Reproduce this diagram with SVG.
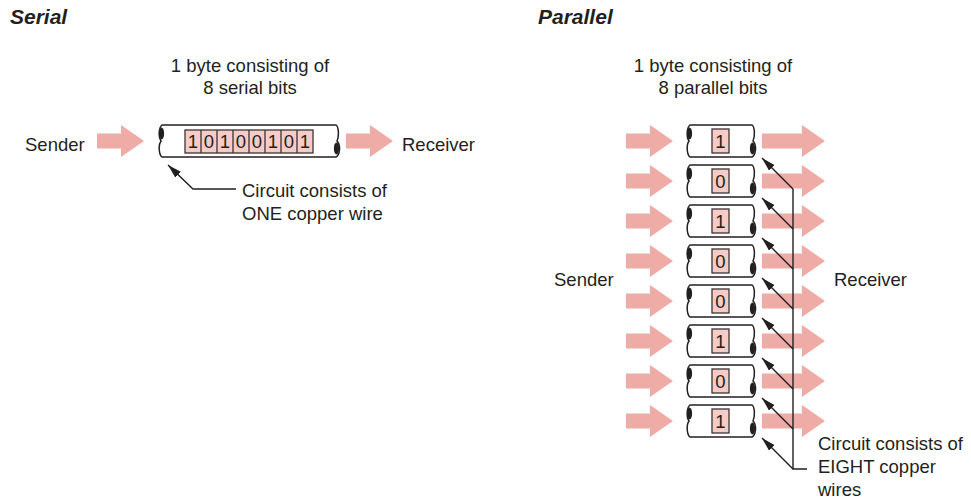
<svg xmlns="http://www.w3.org/2000/svg" xmlns:xlink="http://www.w3.org/1999/xlink" width="971" height="499" viewBox="0 0 971 499">
  <style>
    text { font-family: "Liberation Sans", Arial, sans-serif; font-size: 18.5px; fill: #231f20; }
    .title { font-size: 21px; font-weight: bold; font-style: italic; }
    .mid { text-anchor: middle; }
    .flow { fill: #efaca7; }
    .cell { fill: #f8cbc7; stroke: #3a3536; stroke-width: 1.3; }
    .wire { fill: #ffffff; stroke: #231f20; stroke-width: 1.5; }
    .cut { fill: #231f20; }
    .lead { fill: none; stroke: #231f20; stroke-width: 1.4; }
  </style>
  <defs>
    <marker id="tip" viewBox="0 0 14 8" refX="14" refY="4" markerWidth="14" markerHeight="8" markerUnits="userSpaceOnUse" orient="auto">
      <path d="M0,0 L14,4 L0,8 Z" fill="#231f20"/>
    </marker>
    <!-- short block arrow, 47 long, centred on y=0 -->
    <path id="arrow-short" class="flow" d="M0,-7.5 H24 V-16 L47,0 L24,16 V7.5 H0 Z"/>
    <!-- long block arrow, 63 long -->
    <path id="arrow-long" class="flow" d="M0,-7.5 H40 V-16 L63,0 L40,16 V7.5 H0 Z"/>
    <!-- copper wire segment, 72 wide, 32 tall, with cut ends -->
    <g id="wire-short">
      <path class="wire" d="M5,0 H67 C70,2 70,12 68,16 C72,20 71,30 67,32 H5 C2,30 1,20 4,16 C1,12 2,2 5,0 Z"/>
      <ellipse class="cut" cx="4.5" cy="8.5" rx="2.6" ry="6"/>
      <ellipse class="cut" cx="67.5" cy="23.5" rx="2.6" ry="6"/>
    </g>
  </defs>

  <!-- Serial transmission -->
  <text class="title" x="10" y="24">Serial</text>
  <text class="mid" x="250" y="71.5">1 byte consisting of</text>
  <text class="mid" x="250" y="93.5">8 serial bits</text>

  <g id="serial-sender">
    <text x="25" y="150.5">Sender</text>
    <use xlink:href="#arrow-short" x="97" y="141"/>
  </g>

  <g id="serial-wire" transform="translate(157,125)">
    <path class="wire" d="M5,0 H179 C182,2 182,12 180,16 C184,20 183,30 179,32 H5 C2,30 1,20 4,16 C1,12 2,2 5,0 Z"/>
    <ellipse class="cut" cx="4.5" cy="8.5" rx="2.6" ry="6"/>
    <ellipse class="cut" cx="179.5" cy="23.5" rx="2.6" ry="6"/>
    <rect class="cell" x="28" y="5" width="128" height="23"/>
    <path class="cell" d="M44,5 V28 M60,5 V28 M76,5 V28 M92,5 V28 M108,5 V28 M124,5 V28 M140,5 V28"/>
    <text class="mid" x="36" y="23">1</text>
    <text class="mid" x="52" y="23">0</text>
    <text class="mid" x="68" y="23">1</text>
    <text class="mid" x="84" y="23">0</text>
    <text class="mid" x="100" y="23">0</text>
    <text class="mid" x="116" y="23">1</text>
    <text class="mid" x="132" y="23">0</text>
    <text class="mid" x="148" y="23">1</text>
  </g>

  <g id="serial-receiver">
    <use xlink:href="#arrow-short" x="346" y="141"/>
    <text x="402" y="150.5">Receiver</text>
  </g>

  <g id="serial-note">
    <text x="242" y="197">Circuit consists of</text>
    <text x="242" y="220">ONE copper wire</text>
  </g>

  <!-- Parallel transmission -->
  <text class="title" x="538" y="24">Parallel</text>
  <text class="mid" x="713" y="71.5">1 byte consisting of</text>
  <text class="mid" x="713" y="93.5">8 parallel bits</text>

  <g id="parallel-sender">
    <text x="554" y="285.5">Sender</text>
    <use xlink:href="#arrow-short" x="626" y="141"/>
    <use xlink:href="#arrow-short" x="626" y="181"/>
    <use xlink:href="#arrow-short" x="626" y="221"/>
    <use xlink:href="#arrow-short" x="626" y="261"/>
    <use xlink:href="#arrow-short" x="626" y="301"/>
    <use xlink:href="#arrow-short" x="626" y="341"/>
    <use xlink:href="#arrow-short" x="626" y="381"/>
    <use xlink:href="#arrow-short" x="626" y="421"/>
  </g>

  <g id="parallel-receiver">
    <use xlink:href="#arrow-long" x="762" y="141"/>
    <use xlink:href="#arrow-long" x="762" y="181"/>
    <use xlink:href="#arrow-long" x="762" y="221"/>
    <use xlink:href="#arrow-long" x="762" y="261"/>
    <use xlink:href="#arrow-long" x="762" y="301"/>
    <use xlink:href="#arrow-long" x="762" y="341"/>
    <use xlink:href="#arrow-long" x="762" y="381"/>
    <use xlink:href="#arrow-long" x="762" y="421"/>
    <text x="834" y="285.5">Receiver</text>
  </g>

  <g id="wire-1" transform="translate(685,125)">
    <use xlink:href="#wire-short"/>
    <rect class="cell" x="27" y="4" width="17" height="24"/>
    <text class="mid" x="35.5" y="23">1</text>
  </g>
  <g id="wire-2" transform="translate(685,165)">
    <use xlink:href="#wire-short"/>
    <rect class="cell" x="27" y="4" width="17" height="24"/>
    <text class="mid" x="35.5" y="23">0</text>
  </g>
  <g id="wire-3" transform="translate(685,205)">
    <use xlink:href="#wire-short"/>
    <rect class="cell" x="27" y="4" width="17" height="24"/>
    <text class="mid" x="35.5" y="23">1</text>
  </g>
  <g id="wire-4" transform="translate(685,245)">
    <use xlink:href="#wire-short"/>
    <rect class="cell" x="27" y="4" width="17" height="24"/>
    <text class="mid" x="35.5" y="23">0</text>
  </g>
  <g id="wire-5" transform="translate(685,285)">
    <use xlink:href="#wire-short"/>
    <rect class="cell" x="27" y="4" width="17" height="24"/>
    <text class="mid" x="35.5" y="23">0</text>
  </g>
  <g id="wire-6" transform="translate(685,325)">
    <use xlink:href="#wire-short"/>
    <rect class="cell" x="27" y="4" width="17" height="24"/>
    <text class="mid" x="35.5" y="23">1</text>
  </g>
  <g id="wire-7" transform="translate(685,365)">
    <use xlink:href="#wire-short"/>
    <rect class="cell" x="27" y="4" width="17" height="24"/>
    <text class="mid" x="35.5" y="23">0</text>
  </g>
  <g id="wire-8" transform="translate(685,405)">
    <use xlink:href="#wire-short"/>
    <rect class="cell" x="27" y="4" width="17" height="24"/>
    <text class="mid" x="35.5" y="23">1</text>
  </g>

  <g id="parallel-note">
    <text x="818" y="450">Circuit consists of</text>
    <text x="818" y="473">EIGHT copper</text>
    <text x="818" y="496">wires</text>
  </g>

  <!-- leader lines -->
  <g id="connectors">
    <polyline class="lead" points="236,189 193,189 168,165" marker-end="url(#tip)"/>
    <path class="lead" d="M793,189 V469 H807"/>
    <line class="lead" x1="793" y1="189" x2="762" y2="158" marker-end="url(#tip)"/>
    <line class="lead" x1="793" y1="229" x2="762" y2="198" marker-end="url(#tip)"/>
    <line class="lead" x1="793" y1="269" x2="762" y2="238" marker-end="url(#tip)"/>
    <line class="lead" x1="793" y1="309" x2="762" y2="278" marker-end="url(#tip)"/>
    <line class="lead" x1="793" y1="349" x2="762" y2="318" marker-end="url(#tip)"/>
    <line class="lead" x1="793" y1="389" x2="762" y2="358" marker-end="url(#tip)"/>
    <line class="lead" x1="793" y1="429" x2="762" y2="398" marker-end="url(#tip)"/>
    <line class="lead" x1="793" y1="469" x2="762" y2="438" marker-end="url(#tip)"/>
  </g>
</svg>
